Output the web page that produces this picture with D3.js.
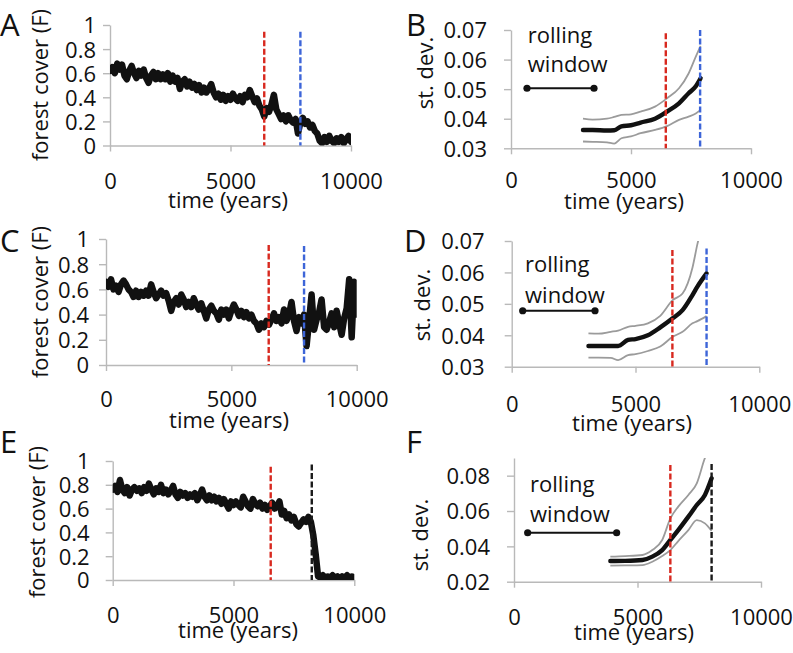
<!DOCTYPE html>
<html><head><meta charset="utf-8">
<script src="https://cdn.jsdelivr.net/npm/d3@7"></script>
<style>
body{margin:0;background:#fff}
svg{display:block}
text{font-family:'Open Sans',sans-serif;fill:#111}
</style>
</head><body>
<svg id="c" width="793" height="653"></svg>
<script>
// ---------------- DATA ----------------
const sampleYears = d3.range(0, 10001, 100);

const forestA = [0.62,0.65,0.60,0.68,0.63,0.67,0.58,0.55,0.62,0.66,
0.60,0.56,0.62,0.58,0.63,0.56,0.52,0.58,0.61,0.55,
0.60,0.55,0.59,0.55,0.60,0.53,0.58,0.53,0.56,0.47,
0.53,0.55,0.49,0.53,0.48,0.51,0.46,0.50,0.44,0.48,
0.44,0.47,0.51,0.44,0.40,0.43,0.38,0.42,0.37,0.41,
0.38,0.43,0.39,0.37,0.41,0.36,0.42,0.40,0.46,0.41,
0.36,0.39,0.33,0.30,0.24,0.31,0.28,0.34,0.42,0.30,
0.26,0.22,0.25,0.20,0.25,0.21,0.19,0.22,0.10,0.19,
0.23,0.18,0.20,0.15,0.17,0.12,0.10,0.04,0.02,0.07,
0.03,0.08,0.04,0.02,0.06,0.03,0.07,0.02,0.05,0.08,0.03];

const forestC = [0.66,0.62,0.68,0.60,0.63,0.58,0.64,0.67,0.64,0.60,
0.58,0.54,0.59,0.54,0.58,0.55,0.59,0.55,0.64,0.58,
0.53,0.56,0.59,0.55,0.57,0.51,0.43,0.50,0.53,0.48,
0.56,0.52,0.46,0.50,0.46,0.53,0.48,0.44,0.49,0.43,
0.37,0.44,0.47,0.43,0.41,0.36,0.44,0.40,0.44,0.37,
0.43,0.48,0.44,0.39,0.43,0.38,0.42,0.37,0.40,0.35,
0.33,0.28,0.33,0.30,0.35,0.32,0.36,0.41,0.35,0.38,
0.33,0.44,0.35,0.40,0.50,0.35,0.27,0.38,0.33,0.40,
0.15,0.35,0.56,0.28,0.36,0.42,0.52,0.30,0.28,0.34,
0.41,0.30,0.43,0.33,0.24,0.37,0.45,0.68,0.22,0.66,0.40];

const forestE = [0.76,0.79,0.74,0.84,0.76,0.73,0.78,0.71,0.76,0.78,
0.75,0.77,0.73,0.78,0.75,0.81,0.76,0.72,0.77,0.74,
0.80,0.73,0.76,0.72,0.75,0.79,0.72,0.69,0.74,0.71,
0.73,0.69,0.72,0.70,0.73,0.67,0.71,0.76,0.70,0.67,
0.71,0.67,0.70,0.66,0.69,0.64,0.68,0.64,0.60,0.66,
0.63,0.66,0.63,0.61,0.70,0.66,0.62,0.60,0.68,0.64,
0.62,0.65,0.60,0.63,0.59,0.62,0.65,0.60,0.62,0.66,
0.55,0.58,0.52,0.55,0.50,0.53,0.47,0.45,0.48,0.51,
0.49,0.53,0.49,0.38,0.22,0.03,0.02,0.04,0.02,0.03,
0.02,0.04,0.02,0.03,0.01,0.03,0.02,0.04,0.02,0.03,0.02];

const sdYearsB = [3000,3400,4000,4300,4600,5000,5400,6000,6500,7000,7400,7700,7900];
const sdMeanB  = [0.0362,0.0362,0.0360,0.0361,0.0374,0.0378,0.0387,0.0400,0.0424,0.0452,0.0486,0.0510,0.0537];
const sdUpperB = [0.0400,0.0397,0.0400,0.0406,0.0413,0.0415,0.0424,0.0441,0.0469,0.0503,0.0553,0.0610,0.0646];
const sdLowerB = [0.0323,0.0322,0.0320,0.0316,0.0334,0.0340,0.0351,0.0362,0.0375,0.0396,0.0407,0.0418,0.0430];

const sdYearsD = [3100,3500,4000,4300,4700,5000,5500,6000,6500,6900,7300,7500,7870];
const sdMeanD  = [0.0366,0.0366,0.0366,0.0366,0.0385,0.0388,0.0400,0.0425,0.0454,0.0480,0.0528,0.0555,0.0597];
const sdUpperD = [0.0406,0.0405,0.0411,0.0415,0.0427,0.0430,0.0438,0.0462,0.0512,0.0533,0.0615,0.0690,0.0800];
const sdLowerD = [0.0329,0.0329,0.0328,0.0321,0.0337,0.0340,0.0350,0.0364,0.0395,0.0411,0.0438,0.0445,0.0461];

const sdYearsF = [3900,4500,5200,5600,6000,6330,6650,7060,7400,7730,8000];
const sdMeanF  = [0.0317,0.0318,0.0323,0.0342,0.0379,0.0436,0.0492,0.0568,0.0634,0.0691,0.0785];
const sdUpperF = [0.0342,0.0345,0.0351,0.0379,0.0436,0.0558,0.0625,0.0691,0.0757,0.0900,0.0980];
const sdLowerF = [0.0291,0.0292,0.0294,0.0313,0.0345,0.0379,0.0430,0.0492,0.0549,0.0530,0.0487];

const timeTicks = [0, 5000, 10000];
const forestTicks = [0, 0.2, 0.4, 0.6, 0.8, 1];
const sdTicks = [0.03, 0.04, 0.05, 0.06, 0.07];
const sdTicksF = [0.02, 0.04, 0.06, 0.08];

// transition markers: [year, top value, colour key]
const markersA = [[6400, 0.945, 'red'], [7900, 0.945, 'blue']];
const markersB = [[6450, 0.0689, 'red'], [7880, 0.0700, 'blue']];
const markersC = [[6490, 0.952, 'red'], [7900, 0.944, 'blue']];
const markersD = [[6490, 0.0671, 'red'], [7870, 0.0676, 'blue']];
const markersE = [[6540, 0.952, 'red'], [8240, 0.970, 'black']];
const markersF = [[6330, 0.0860, 'red'], [8000, 0.0866, 'black']];

// rolling window annotation: [startYear, endYear, value, textYear, rollingValue, windowValue]
const windowB = [667, 3458, 0.0503, 700, 0.0656, 0.0558];
const windowD = [444, 3365, 0.0478, 540, 0.0601, 0.0503];
const windowF = [553, 4156, 0.0477, 650, 0.0708, 0.0538];

// ---------------- STYLE / LAYOUT ----------------
const colors = {red: '#d8291f', blue: '#3d65d8', black: '#1a1a1a'};
const axisColor = '#b9b9b9';
const FS = 22;

const svg = d3.select('#c');

function drawPanel(p) {
  const g = svg.append('g');
  const x = d3.scaleLinear().domain([0, 10000]).range([p.x0, p.x1]);
  const y = d3.scaleLinear().domain(p.yDomain).range([p.yb, p.yt]);

  const xa = g.append('g').attr('transform', `translate(0,${p.yb})`)
    .call(d3.axisBottom(x).tickValues(timeTicks).tickSize(6).tickSizeOuter(0).tickFormat(d3.format('d')));
  xa.selectAll('text').attr('y', p.xLabOff).attr('dy', null).style('font-size', FS + 'px').attr('fill', '#111');
  const ya = g.append('g').attr('transform', `translate(${p.x0},0)`)
    .call(d3.axisLeft(y).tickValues(p.yTicks).tickSize(7).tickSizeOuter(0).tickFormat(p.fmt));
  ya.selectAll('text').attr('x', -p.yLabGap).attr('dy', '0.36em').style('font-size', FS + 'px').attr('fill', '#111');
  [xa, ya].forEach(a => {
    a.select('.domain').attr('stroke', axisColor).attr('stroke-width', 1.4);
    a.selectAll('.tick line').attr('stroke', axisColor).attr('stroke-width', 1.4);
  });

  const cid = 'clip' + p.label;
  svg.append('clipPath').attr('id', cid).append('rect')
    .attr('x', p.x0).attr('y', p.yt).attr('width', p.x1 - p.x0).attr('height', p.yb - p.yt);
  const pg = g.append('g').attr('clip-path', `url(#${cid})`);

  if (p.series) {
    const line = d3.line().x((d, i) => x(p.years[i])).y(d => y(d));
    pg.append('path').datum(p.series).attr('d', line)
      .attr('fill', 'none').attr('stroke', '#111').attr('stroke-width', 6.5)
      .attr('stroke-linejoin', 'round').attr('stroke-linecap', 'round');
  }
  if (p.mean) {
    const line = d3.line().x((d, i) => x(p.years[i])).y(d => y(d)).curve(d3.curveMonotoneX);
    [p.upper, p.lower].forEach(s => {
      pg.append('path').datum(s).attr('d', line).attr('fill', 'none')
        .attr('stroke', '#9b9b9b').attr('stroke-width', 1.8);
    });
    pg.append('path').datum(p.mean).attr('d', line).attr('fill', 'none')
      .attr('stroke', '#111').attr('stroke-width', 4.4).attr('stroke-linecap', 'round');
  }
  p.markers.forEach(m => {
    g.append('line').attr('x1', x(m[0])).attr('x2', x(m[0]))
      .attr('y1', y(m[1])).attr('y2', p.yb)
      .attr('stroke', colors[m[2]]).attr('stroke-width', 2.4).attr('stroke-dasharray', '6,2.5');
  });
  if (p.win) {
    const w = p.win;
    g.append('line').attr('x1', x(w[0])).attr('x2', x(w[1])).attr('y1', y(w[2])).attr('y2', y(w[2]))
      .attr('stroke', '#111').attr('stroke-width', 2);
    [w[0], w[1]].forEach(t => g.append('circle').attr('cx', x(t)).attr('cy', y(w[2])).attr('r', 3.6).attr('fill', '#111'));
    g.append('text').attr('x', x(w[3])).attr('y', y(w[4])).style('font-size', FS + 'px').text('rolling');
    g.append('text').attr('x', x(w[3])).attr('y', y(w[5])).style('font-size', FS + 'px').text('window');
  }
  g.append('text').attr('x', p.xtX).attr('y', p.yb + p.xtOff).attr('text-anchor', 'middle')
    .style('font-size', FS + 'px').text('time (years)');
  g.append('text').attr('transform', `translate(${p.ytX},${p.ytY}) rotate(-90)`)
    .attr('text-anchor', 'middle').attr('dy', '0.35em').style('font-size', FS + 'px').text(p.ytitle);
  g.append('text').attr('x', p.lx).attr('y', p.ly).style('font-size', '31px').text(p.label);
}

const fmtF = d3.format('~g');
const fmtS = d3.format('.2f');

const panels = [
  {label: 'A', x0: 110, x1: 351, yt: 25, yb: 145.5, yDomain: [0, 1], yTicks: forestTicks, fmt: fmtF,
   yLabGap: 14, xLabOff: 43, xtOff: 62, years: sampleYears, series: forestA, markers: markersA,
   xtX: 228, ytX: 40, ytY: 85, ytitle: 'forest cover (F)', lx: 0, ly: 36},
  {label: 'B', x0: 511, x1: 751, yt: 30, yb: 148.3, yDomain: [0.03, 0.07], yTicks: sdTicks, fmt: fmtS,
   yLabGap: 24, xLabOff: 40, xtOff: 61, years: sdYearsB, mean: sdMeanB, upper: sdUpperB, lower: sdLowerB,
   markers: markersB, win: windowB,
   xtX: 624, ytX: 425, ytY: 73, ytitle: 'st. dev.', lx: 406, ly: 36},
  {label: 'C', x0: 106, x1: 356.7, yt: 239, yb: 365, yDomain: [0, 1], yTicks: forestTicks, fmt: fmtF,
   yLabGap: 17, xLabOff: 42, xtOff: 63, years: sampleYears, series: forestC, markers: markersC,
   xtX: 229, ytX: 40, ytY: 302, ytitle: 'forest cover (F)', lx: 0, ly: 252},
  {label: 'D', x0: 511.7, x1: 759.3, yt: 241, yb: 366.7, yDomain: [0.03, 0.07], yTicks: sdTicks, fmt: fmtS,
   yLabGap: 27, xLabOff: 45, xtOff: 64, years: sdYearsD, mean: sdMeanD, upper: sdUpperD, lower: sdLowerD,
   markers: markersD, win: windowD,
   xtX: 632, ytX: 422, ytY: 305, ytitle: 'st. dev.', lx: 404, ly: 252},
  {label: 'E', x0: 112.7, x1: 354.3, yt: 461, yb: 580, yDomain: [0, 1], yTicks: forestTicks, fmt: fmtF,
   yLabGap: 23, xLabOff: 43, xtOff: 58, years: sampleYears, series: forestE, markers: markersE,
   xtX: 238, ytX: 37, ytY: 522, ytitle: 'forest cover (F)', lx: 0, ly: 453},
  {label: 'F', x0: 514, x1: 761, yt: 458, yb: 581.7, yDomain: [0.02, 0.09], yTicks: sdTicksF, fmt: fmtS,
   yLabGap: 24, xLabOff: 43, xtOff: 58, years: sdYearsF, mean: sdMeanF, upper: sdUpperF, lower: sdLowerF,
   markers: markersF, win: windowF,
   xtX: 634, ytX: 420, ytY: 535, ytitle: 'st. dev.', lx: 406, ly: 453}
];
panels.forEach(drawPanel);
</script>
</body></html>
